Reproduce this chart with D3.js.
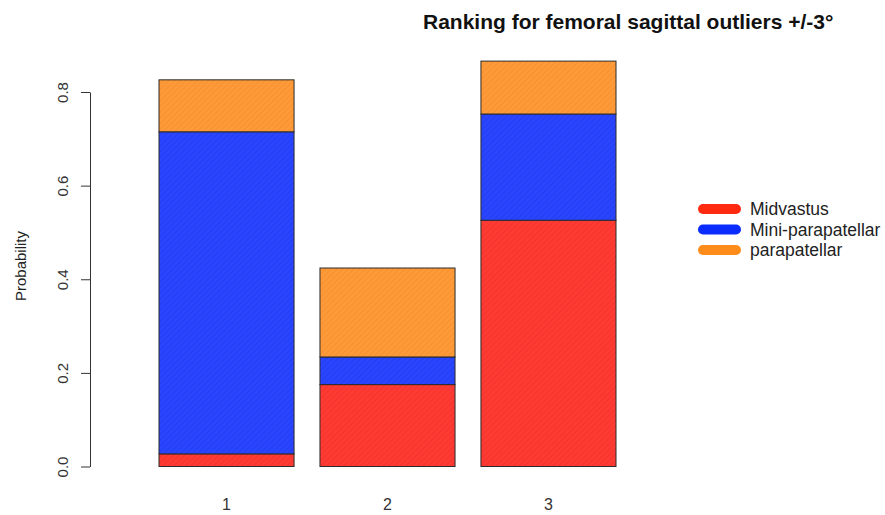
<!DOCTYPE html>
<html>
<head>
<meta charset="utf-8">
<script src="https://cdn.jsdelivr.net/npm/d3@7"></script>
<style>
  body { margin: 0; background: #fff; }
  text { font-family: "Liberation Sans", Arial, sans-serif; }
</style>
</head>
<body>
<div class="bar-chart"></div>
<script>
// ranks on the x axis
const ranks = ["1", "2", "3"];
const treatments = ["Midvastus", "Mini-parapatellar", "parapatellar"];
// probability of each treatment at each rank
const midvastus = [0.027, 0.175, 0.526];
const miniParapatellar = [0.688, 0.059, 0.227];
const parapatellar = [0.111, 0.190, 0.113];
const yTicks = [0, 0.2, 0.4, 0.6, 0.8];

const fills = ["#ff3a33", "#2a45ff", "#ff9a38"];
const hatch = ["#d92a25", "#1a30cc", "#e07f25"];
const legendCols = ["#ff2a10", "#0a2cff", "#ff8c1a"];

const width = 885, height = 515;

const svg = d3.select(".bar-chart")
    .append("svg")
    .attr("width", width)
    .attr("height", height);

// fine diagonal shading like R's density lines
const defs = svg.append("defs");
fills.forEach((c, i) => {
    const p = defs.append("pattern")
        .attr("id", "hatch" + i)
        .attr("patternUnits", "userSpaceOnUse")
        .attr("width", 4)
        .attr("height", 4)
        .attr("patternTransform", "rotate(-45)");
    p.append("rect").attr("width", 4).attr("height", 4).attr("fill", c);
    p.append("line")
        .attr("x1", 0).attr("y1", 0).attr("x2", 4).attr("y2", 0)
        .attr("stroke", hatch[i])
        .attr("stroke-width", 1)
        .attr("stroke-opacity", 0.7);
});

const data = ranks.map((r, i) => ({
    rank: r,
    Midvastus: midvastus[i],
    "Mini-parapatellar": miniParapatellar[i],
    parapatellar: parapatellar[i]
}));

const xScale = d3.scaleBand()
    .domain(ranks)
    .range([159, 616])
    .paddingInner(0.161)
    .paddingOuter(0);

const yScale = d3.scaleLinear()
    .domain([0, 0.8])
    .range([466.5, 92]);

const stacked = d3.stack().keys(treatments)(data);

svg.append("g")
    .selectAll("g")
    .data(stacked)
    .join("g")
    .attr("fill", (d, i) => `url(#hatch${i})`)
    .selectAll("rect")
    .data(d => d)
    .join("rect")
    .attr("x", d => xScale(d.data.rank))
    .attr("y", d => yScale(d[1]))
    .attr("height", d => yScale(d[0]) - yScale(d[1]))
    .attr("width", xScale.bandwidth())
    .attr("stroke", "#2b2b2b")
    .attr("stroke-width", 1);

// y axis
const yAxis = d3.axisLeft(yScale)
    .tickValues(yTicks)
    .tickFormat(d3.format(".1f"))
    .tickSize(9)
    .tickSizeOuter(0);

const yAxisGroup = svg.append("g")
    .attr("transform", "translate(90,0)")
    .call(yAxis);

yAxisGroup.select(".domain").attr("stroke", "#333");
yAxisGroup.selectAll(".tick line").attr("stroke", "#333");
yAxisGroup.selectAll(".tick text")
    .attr("font-size", 15)
    .attr("fill", "#333")
    .attr("x", null)
    .attr("dy", null)
    .attr("text-anchor", "middle")
    .attr("transform", "translate(-22,0) rotate(-90)");

svg.append("text")
    .attr("transform", "translate(26,266) rotate(-90)")
    .attr("text-anchor", "middle")
    .attr("font-size", 15)
    .attr("fill", "#222")
    .text("Probability");

// x labels (R draws no axis line here)
svg.append("g")
    .selectAll("text")
    .data(ranks)
    .join("text")
    .attr("x", d => xScale(d) + xScale.bandwidth() / 2)
    .attr("y", 510)
    .attr("text-anchor", "middle")
    .attr("font-size", 16)
    .attr("fill", "#333")
    .text(d => d);

// title
svg.append("text")
    .attr("x", 423)
    .attr("y", 29)
    .attr("text-anchor", "start")
    .attr("font-size", 21)
    .attr("font-weight", "bold")
    .attr("fill", "#111")
    .text("Ranking for femoral sagittal outliers +/-3°");

// legend
const legend = svg.append("g")
    .selectAll("g")
    .data(treatments)
    .join("g")
    .attr("transform", (d, i) => `translate(0, ${209 + i * 20.5})`);

legend.append("line")
    .attr("x1", 703).attr("x2", 736)
    .attr("y1", 0).attr("y2", 0)
    .attr("stroke", (d, i) => legendCols[i])
    .attr("stroke-width", 10)
    .attr("stroke-linecap", "round");

legend.append("text")
    .attr("x", 750)
    .attr("y", 0)
    .attr("dy", "0.35em")
    .attr("font-size", 17.5)
    .attr("fill", "#222")
    .text(d => d);
</script>
</body>
</html>
